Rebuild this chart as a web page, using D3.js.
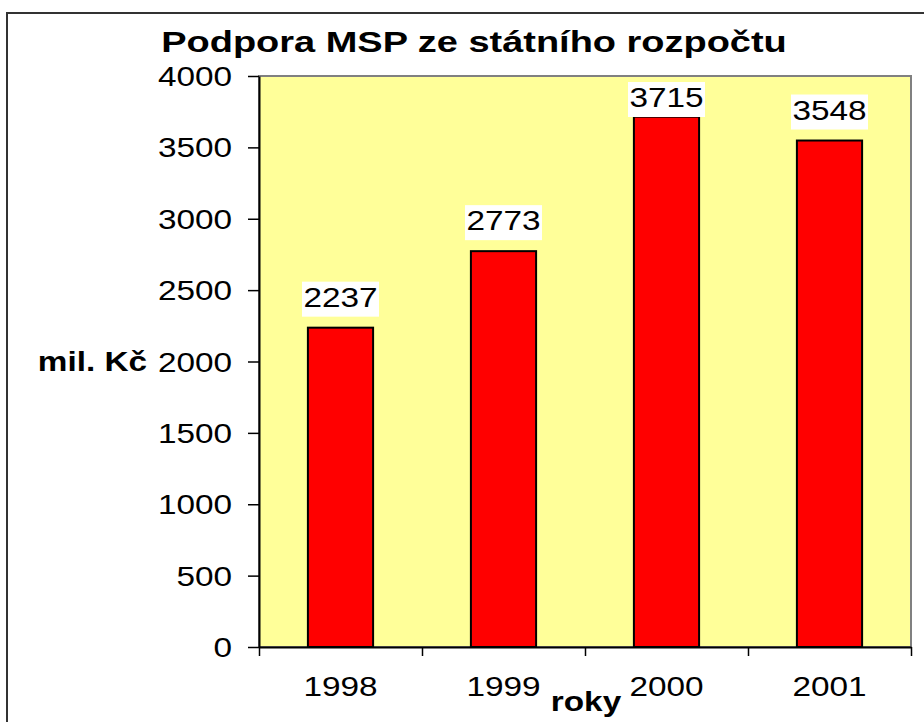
<!DOCTYPE html>
<html>
<head>
<meta charset="utf-8">
<script src="https://cdn.jsdelivr.net/npm/d3@7"></script>
<style>
  body { margin: 0; background: #fff; }
  text { font-family: "Liberation Sans", Arial, sans-serif; fill: #000; }
</style>
</head>
<body>
<svg width="924" height="722"></svg>
<script>
const years = ["1998", "1999", "2000", "2001"];
const values = [2237, 2773, 3715, 3548];
const yTicks = [0, 500, 1000, 1500, 2000, 2500, 3000, 3500, 4000];

const svg = d3.select("svg");
const sx = 1.19; // text in the original is drawn a bit wide
const fs = 28;

const plot = {left: 259, right: 911, top: 76, bottom: 647};

// outer frame
svg.append("rect")
    .attr("x", 7).attr("y", 13)
    .attr("width", 940).attr("height", 740)
    .attr("fill", "#fff")
    .attr("stroke", "#333")
    .attr("stroke-width", 2);

const x = d3.scaleBand()
    .domain(years)
    .range([plot.left, plot.right])
    .paddingInner(0.6)
    .paddingOuter(0.3);

const xEdge = d3.scaleLinear()
    .domain([0, years.length])
    .range([plot.left, plot.right]);

const y = d3.scaleLinear()
    .domain([0, 4000])
    .range([plot.bottom, plot.top]);

// plot area
svg.append("rect")
    .attr("x", plot.left).attr("y", plot.top)
    .attr("width", plot.right - plot.left)
    .attr("height", plot.bottom - plot.top)
    .attr("fill", "#ffff99")
    .attr("stroke", "#808080")
    .attr("stroke-width", 2);

function wideText(g, tx, ty, str, opts) {
  opts = opts || {};
  const holder = g.append("g");
  const t = holder.append("text")
      .attr("font-size", opts.size || fs)
      .attr("text-anchor", opts.anchor || "middle")
      .attr("font-weight", opts.bold ? "bold" : "normal")
      .text(str);
  let k = sx;
  if (opts.width) k = opts.width / t.node().getComputedTextLength();
  holder.attr("transform", `translate(${tx},${ty}) scale(${k},1)`);
  return t;
}

// bars
svg.append("g")
  .selectAll("rect")
  .data(values)
  .enter().append("rect")
    .attr("x", (d, i) => x(years[i]))
    .attr("y", d => y(d))
    .attr("width", x.bandwidth())
    .attr("height", d => y(0) - y(d))
    .attr("fill", "#ff0000")
    .attr("stroke", "#000")
    .attr("stroke-width", 2);

// y axis
const yAxis = svg.append("g")
    .attr("transform", `translate(${plot.left},0)`)
    .call(d3.axisLeft(y).tickValues(yTicks).tickFormat(d3.format("d")).tickSize(11).tickSizeOuter(0));
yAxis.select(".domain").attr("stroke", "#000").attr("stroke-width", 2);
yAxis.selectAll(".tick line").attr("stroke", "#000").attr("stroke-width", 1.5);
yAxis.selectAll(".tick text")
    .attr("font-size", fs)
    .attr("font-family", "Liberation Sans, Arial, sans-serif")
    .attr("x", -27 / sx)
    .attr("dy", "0.34em")
    .attr("transform", `scale(${sx},1)`);

// x axis: ticks on category edges
const xEdgeAxis = svg.append("g")
    .attr("transform", `translate(0,${plot.bottom})`)
    .call(d3.axisBottom(xEdge).ticks(years.length).tickSize(9).tickSizeOuter(0).tickFormat(""));
xEdgeAxis.select(".domain").attr("stroke", "#000").attr("stroke-width", 2);
xEdgeAxis.selectAll(".tick line").attr("stroke", "#000").attr("stroke-width", 1.5);

// x axis labels
const xAxis = svg.append("g")
    .attr("transform", `translate(0,${plot.bottom})`)
    .call(d3.axisBottom(x).tickSize(0).tickPadding(29));
xAxis.select(".domain").remove();
xAxis.selectAll(".tick text")
    .attr("font-size", fs)
    .attr("font-family", "Liberation Sans, Arial, sans-serif")
    .attr("transform", `scale(${sx},1)`)
    .attr("x", 0);
xAxis.selectAll(".tick")
    .attr("transform", d => `translate(${x(d) + x.bandwidth() / 2},0)`);

// value labels with white boxes
const labels = svg.append("g");
values.forEach((v, i) => {
  const cx = x(years[i]) + x.bandwidth() / 2;
  const boxH = 35, boxW = 77;
  const boxTop = Math.max(y(v) - 11 - boxH, 82);
  labels.append("rect")
      .attr("x", cx - boxW / 2)
      .attr("y", boxTop)
      .attr("width", boxW)
      .attr("height", boxH)
      .attr("fill", "#fff");
  wideText(labels, cx, boxTop + 25, String(v));
});

// title and axis titles
wideText(svg, 474, 52, "Podpora MSP ze státního rozpočtu", {bold: true, size: 29, width: 626});
wideText(svg, 147, 371, "mil. Kč", {bold: true, anchor: "end"});
wideText(svg, 586, 711, "roky", {bold: true});
</script>
</body>
</html>
